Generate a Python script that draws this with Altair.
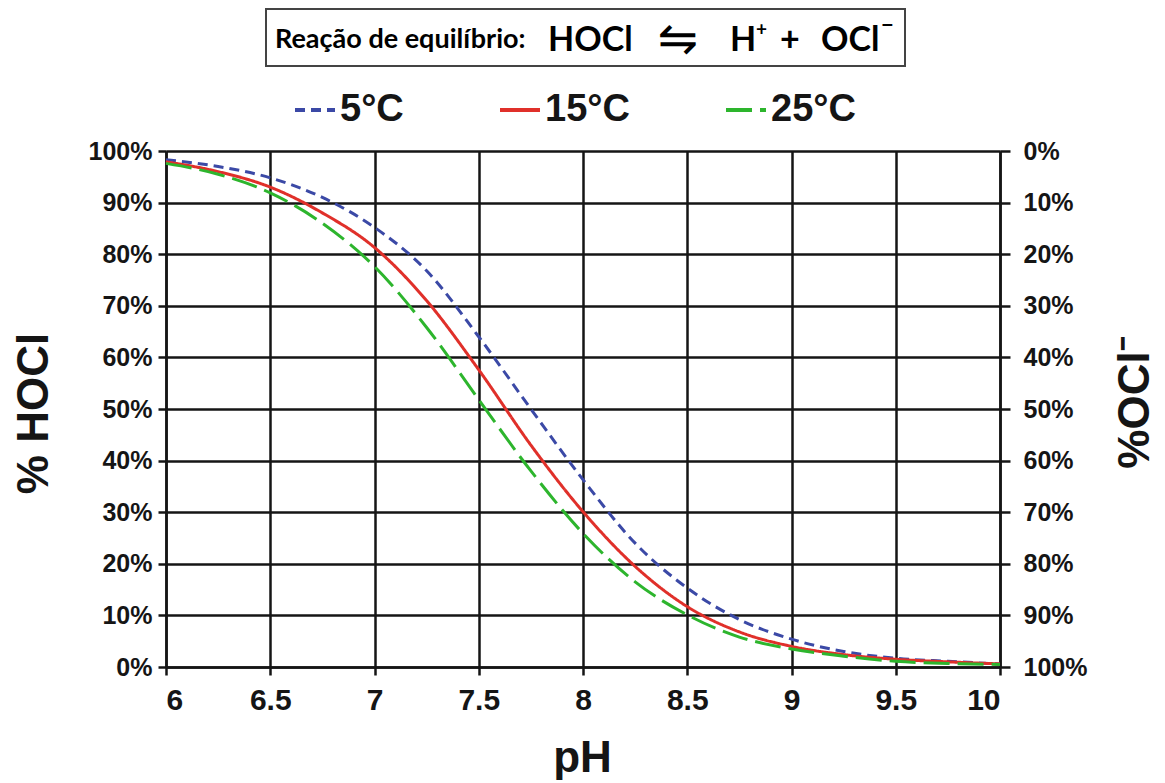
import altair as alt
import pandas as pd

# ---- data ----
ph = [6.0, 6.25, 6.5, 6.75, 7.0, 7.25, 7.5, 7.75, 8.0, 8.25, 8.5, 8.75, 9.0, 9.25, 9.5, 9.75, 10.0]
hocl_5c = [98.3, 97.0, 94.8, 91.0, 85.2, 76.8, 64.0, 50.0, 36.3, 24.0, 15.3, 9.2, 5.4, 3.0, 1.7, 1.1, 0.6]
hocl_15c = [97.9, 96.0, 93.0, 88.0, 81.3, 71.0, 57.6, 43.0, 30.1, 19.5, 11.7, 6.8, 4.0, 2.4, 1.5, 1.0, 0.6]
hocl_25c = [97.6, 95.5, 91.9, 86.0, 77.6, 65.8, 51.8, 38.0, 25.9, 16.5, 10.1, 5.8, 3.5, 2.1, 1.1, 0.7, 0.5]
temps = ["5°C", "15°C", "25°C"]
colors = ["#3b49a6", "#e0302a", "#2db52d"]
dashes = [[10, 6], [1, 0], [26, 8]]
x_ticks = [6, 6.5, 7, 7.5, 8, 8.5, 9, 9.5, 10]
y_ticks = [0, 10, 20, 30, 40, 50, 60, 70, 80, 90, 100]

rows = []
for t, vals in zip(temps, [hocl_5c, hocl_15c, hocl_25c]):
    for p, v in zip(ph, vals):
        rows.append({"pH": p, "HOCl": v, "temp": t})
df = pd.DataFrame(rows)

AX_FONT = "Liberation Sans, Arial, sans-serif"
NARROW = "Liberation Sans Narrow, Arial Narrow, Liberation Sans, sans-serif"
BOX_FONT = "Lato, Carlito, Calibri, sans-serif"
INK = "#151515"

x_enc = alt.X(
    "pH:Q",
    scale=alt.Scale(domain=[6, 10], nice=False, zero=False),
    axis=alt.Axis(
        values=x_ticks, format="~g", title="pH",
        titleFont=AX_FONT, titleFontSize=44, titleFontWeight="bold", titleColor=INK,
        titleX=416, titleY=104, titleBaseline="alphabetic", titleAlign="center",
        labelFont=NARROW, labelFontSize=30, labelFontWeight="bold", labelColor=INK,
        labelPadding=10, tickSize=8, tickWidth=2.5, tickColor=INK,
        domainColor=INK, domainWidth=2.5,
        grid=True, gridColor=INK, gridWidth=2.5,
    ),
)

lines = alt.Chart(df).mark_line(strokeWidth=3, interpolate="monotone").encode(
    x=x_enc,
    y=alt.Y(
        "HOCl:Q",
        scale=alt.Scale(domain=[0, 100], nice=False),
        axis=alt.Axis(
            values=y_ticks, labelExpr="datum.value + '%'", title="% HOCl",
            titleFont=AX_FONT, titleFontSize=44, titleFontWeight="bold", titleColor=INK,
            titleAngle=270, titleX=-119, titleY=262, titleBaseline="alphabetic", titleAlign="center",
            labelFont=AX_FONT, labelFontSize=25, labelFontWeight="bold", labelColor=INK,
            labelPadding=6, tickSize=8, tickWidth=2.5, tickColor=INK,
            domainColor=INK, domainWidth=2.5,
            grid=True, gridColor=INK, gridWidth=2.5,
        ),
    ),
    color=alt.Color("temp:N", sort=temps, scale=alt.Scale(domain=temps, range=colors), title=None),
    strokeDash=alt.StrokeDash("temp:N", sort=temps, scale=alt.Scale(domain=temps, range=dashes), title=None),
)

right = alt.Chart(df).transform_calculate(OCl="100 - datum.HOCl").mark_line(opacity=0).encode(
    x=alt.X("pH:Q"),
    y=alt.Y(
        "OCl:Q",
        scale=alt.Scale(domain=[0, 100], nice=False, reverse=True),
        axis=alt.Axis(
            orient="right", values=y_ticks, labelExpr="datum.value + '%'", title="%OCl⁻",
            titleFont=AX_FONT, titleFontSize=44, titleFontWeight="bold", titleColor=INK,
            titleAngle=270, titleX=148, titleY=251, titleBaseline="alphabetic", titleAlign="center",
            labelFont=AX_FONT, labelFontSize=25, labelFontWeight="bold", labelColor=INK,
            labelPadding=13, tickSize=10, tickWidth=2.5, tickColor=INK,
            domainColor=INK, domainWidth=2.5, grid=False,
        ),
    ),
)

one = pd.DataFrame({"k": [0]})
box = alt.Chart(one).mark_rect(fill="white", stroke="#444444", strokeWidth=2).encode(
    x=alt.value(100), x2=alt.value(739), y=alt.value(-142), y2=alt.value(-85)
)


def txt(s, x, y, size, align="left", font=BOX_FONT, weight="bold"):
    return alt.Chart(one).mark_text(
        text=s, align=align, baseline="alphabetic", font=font, fontSize=size,
        fontWeight=weight, color="#000000"
    ).encode(x=alt.value(x), y=alt.value(y))


title_parts = [
    txt("Reação de equilíbrio:", 109, -103, 27),
    txt("HOCl", 382, -100, 34),
    txt("⇋", 512, -96, 48, align="center", font="DejaVu Sans", weight="normal"),
    txt("H", 564, -100, 34),
    txt("+", 590, -115, 19),
    txt("+", 614, -100, 34),
    txt("OCl", 655, -100, 34),
    txt("−", 715, -118, 22),
]

chart = alt.layer(box, *title_parts, lines, right).resolve_scale(y="independent").properties(
    width=834, height=516,
    padding={"left": 158, "top": 143, "right": 155, "bottom": 113},
    autosize=alt.AutoSizeParams(type="none"),
).configure_view(stroke=None).configure_legend(
    orient="none", legendX=127, legendY=-63, direction="horizontal",
    symbolType="stroke", symbolSize=1600, symbolStrokeWidth=4,
    labelFont=AX_FONT, labelFontSize=38, labelFontWeight="bold", labelColor=INK,
    labelOffset=3, columnPadding=88, labelLimit=300,
)

chart.save("out.html", embed_options={"renderer": "svg", "actions": False})
